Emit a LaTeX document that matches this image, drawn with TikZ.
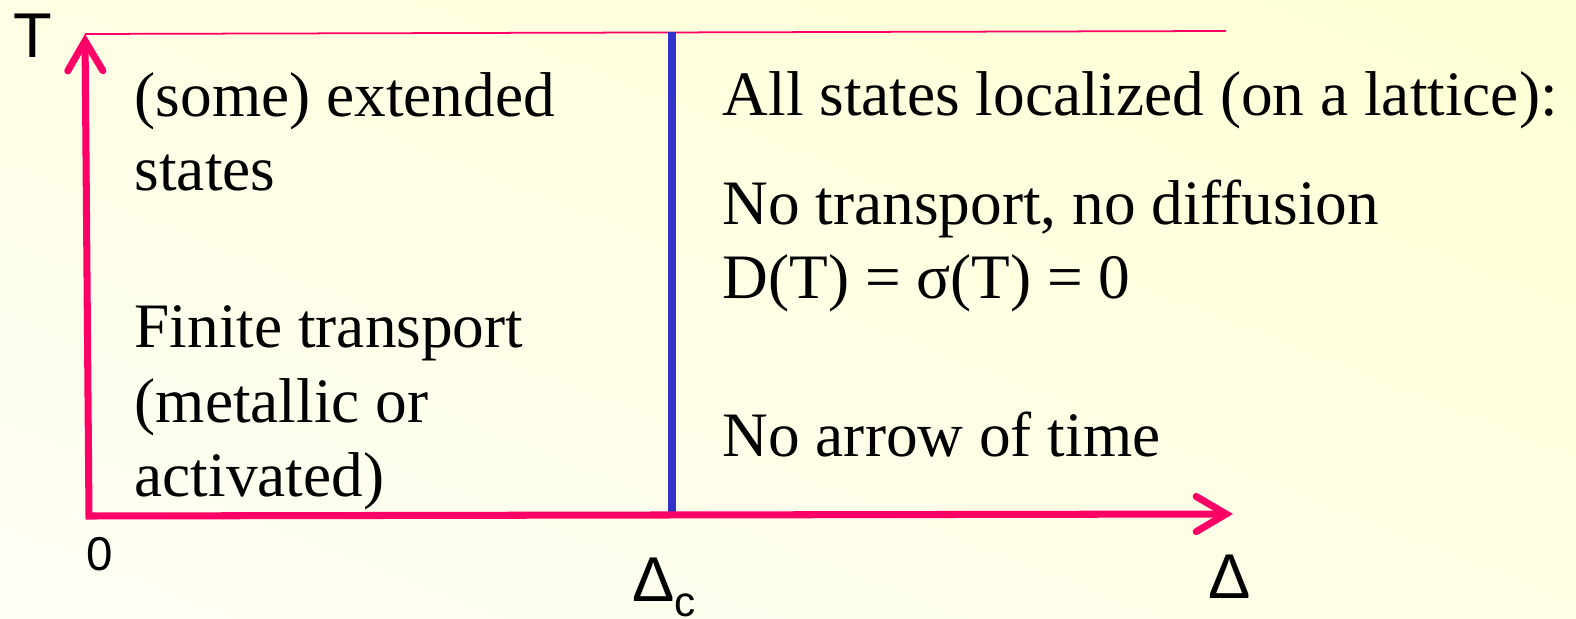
\documentclass[tikz,border=0pt]{standalone}
\usepackage{fontspec}
\setmainfont{Liberation Serif}
\setsansfont{Liberation Sans}
\usetikzlibrary{arrows.meta,shadings}
\definecolor{axispink}{RGB}{255,0,102}
\definecolor{critblue}{RGB}{51,51,204}
\definecolor{bglight}{RGB}{254,254,246}
\definecolor{bgyellow}{RGB}{255,255,212}
\begin{document}
\begin{tikzpicture}[x=0.01cm, y=-0.01cm,
  axis/.style={draw=axispink, line width=2pt, line join=miter,
    {Straight Barb[length=8.5pt, width=10pt, line cap=round]}-{Straight Barb[length=8.5pt, width=10pt, line cap=round]}},
  phase/.style={anchor=base west, align=left, inner sep=0pt,
    font=\fontsize{18}{21.3}\selectfont},
  axlabel/.style={anchor=base west, inner sep=0pt, font=\sffamily\fontsize{18}{21}\selectfont}
]
% background
\shade[lower left=bglight, upper right=bgyellow, lower right=bglight!50!bgyellow, upper left=bglight!50!bgyellow]
  (0,619) rectangle (1576,0);
\useasboundingbox (0,0) rectangle (1576,619);

\coordinate (origin) at (89,516);
\coordinate (ytop) at (85,34);
\coordinate (xend) at (1233,514);
\coordinate (topend) at (1226,31);
\coordinate (crittop) at (672,32);
\coordinate (critbot) at (672,515);

% phase boundary and top line
\draw[axispink, line width=0.5pt] (ytop) -- (topend);
\draw[critblue, line width=2pt] (crittop) -- (critbot);
\draw[axis] (ytop) -- (origin) -- (xend);

% axis labels
\node[axlabel] (tlabel) at (13,58) {T};
\node[axlabel, font=\sffamily\fontsize{13.5}{15}\selectfont] (zero) at (86,571) {0};
\node[axlabel] (dlabel) at (1208,599) {Δ};
\node[axlabel] (dclabel) at (632,601) {Δ\raisebox{-4.5pt}{\fontsize{12}{14}\selectfont c}};

% phases (base = last line)
\node[phase] (ext) at (134,191) {(some) extended\\states};
\node[phase] (finite) at (134,497) {Finite transport\\(metallic or\\activated)};
\node[phase] (loc) at (722,116) {All states localized (on a lattice):};
\node[phase] (notr) at (722,299) {No transport, no diffusion\\D(T) = σ(T) = 0};
\node[phase] (noarrow) at (722,457) {No arrow of time};
\end{tikzpicture}
\end{document}
